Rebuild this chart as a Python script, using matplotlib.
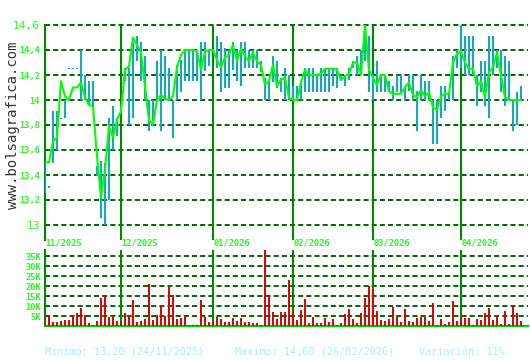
import matplotlib.pyplot as plt
import matplotlib.transforms as mtransforms

# one entry per trading session, 11/2025 .. 04/2026
close = [13.50, 13.50, 13.67, 13.70, 14.15, 14.03, 14.00, 14.10, 14.10, 14.14,
         14.02, 13.96, 13.95, 13.55, 13.22, 13.44, 13.79, 13.70, 13.84, 13.91,
         14.24, 14.27, 14.50, 14.44, 14.38, 14.11, 13.84, 13.80, 14.00, 14.04,
         14.01, 14.00, 14.03, 14.26, 14.36, 14.40, 14.40, 14.40, 14.39, 14.24,
         14.39, 14.40, 14.40, 14.32, 14.26, 14.34, 14.36, 14.44, 14.31, 14.41,
         14.35, 14.31, 14.38, 14.31, 14.28, 14.12, 14.15, 14.28, 14.11, 14.16,
         14.18, 14.02, 14.00, 14.00, 14.14, 14.24, 14.20, 14.20, 14.20, 14.21,
         14.25, 14.25, 14.25, 14.24, 14.16, 14.19, 14.21, 14.30, 14.30, 14.20,
         14.60, 14.24, 14.18, 14.12, 14.20, 14.20, 14.07, 14.05, 14.05, 14.05,
         14.10, 14.14, 14.04, 14.02, 14.08, 14.03, 14.06, 13.94, 13.92, 14.03,
         14.05, 14.05, 14.30, 14.37, 14.39, 14.30, 14.25, 14.25, 14.11, 14.15,
         14.02, 14.22, 14.26, 14.38, 14.20, 14.02, 14.00, 14.00, 14.00, 14.00]

low = [13.26, 13.30, 13.50, 13.60, 13.85, 13.86, 14.25, 14.25, 14.25, 14.00,
       14.00, 13.96, 13.95, 13.39, 13.06, 13.00, 13.20, 13.60, 13.71, 13.90,
       14.15, 13.80, 13.86, 14.31, 14.15, 14.00, 13.75, 13.83, 14.00, 13.75,
       14.00, 14.00, 13.70, 14.00, 14.06, 14.15, 14.15, 14.15, 14.15, 14.00,
       14.23, 14.27, 14.40, 14.26, 14.06, 14.10, 14.10, 14.24, 14.15, 14.11,
       14.26, 14.26, 14.26, 14.26, 14.22, 14.00, 14.00, 14.14, 14.10, 14.06,
       14.00, 14.00, 14.00, 14.00, 14.00, 14.06, 14.06, 14.06, 14.06, 14.06,
       14.06, 14.06, 14.11, 14.10, 14.15, 14.11, 14.16, 14.26, 14.20, 14.20,
       14.31, 14.06, 14.00, 14.06, 14.06, 14.06, 14.06, 14.00, 14.06, 14.06,
       14.00, 14.07, 14.00, 13.75, 14.00, 14.00, 14.00, 13.65, 13.65, 13.86,
       13.91, 14.00, 14.00, 14.26, 14.26, 14.20, 14.20, 14.20, 13.95, 14.06,
       13.95, 13.86, 14.20, 14.26, 14.06, 13.95, 14.00, 13.75, 13.80, 14.00]

high = [13.50, 13.31, 13.91, 13.91, 13.86, 14.00, 14.26, 14.26, 14.26, 14.40,
        14.20, 14.15, 14.15, 13.47, 13.51, 13.50, 13.86, 13.95, 13.86, 13.96,
        14.26, 14.26, 14.46, 14.51, 14.46, 14.35, 14.00, 14.00, 14.31, 14.40,
        14.35, 14.26, 14.00, 14.28, 14.32, 14.40, 14.40, 14.40, 14.40, 14.46,
        14.46, 14.40, 14.40, 14.51, 14.46, 14.42, 14.40, 14.46, 14.40, 14.46,
        14.46, 14.40, 14.40, 14.40, 14.31, 14.18, 14.16, 14.35, 14.31, 14.18,
        14.26, 14.20, 14.11, 14.11, 14.15, 14.26, 14.26, 14.26, 14.20, 14.26,
        14.26, 14.26, 14.26, 14.26, 14.20, 14.20, 14.26, 14.31, 14.35, 14.40,
        14.60, 14.51, 14.20, 14.31, 14.20, 14.20, 14.15, 14.11, 14.20, 14.20,
        14.11, 14.20, 14.20, 14.07, 14.20, 14.15, 14.15, 14.00, 14.00, 14.11,
        14.11, 14.05, 14.35, 14.40, 14.60, 14.51, 14.51, 14.51, 14.20, 14.31,
        14.31, 14.51, 14.51, 14.40, 14.40, 14.35, 14.31, 14.00, 14.06, 14.11]

volume_k = [5.3, 5.3, 2.0, 2.0, 2.7, 3.0, 3.0, 5.3, 6.3, 9.0,
            5.3, 1.3, 0.5, 2.7, 14.0, 15.0, 4.5, 4.5, 2.7, 2.0,
            6.5, 5.0, 13.0, 2.0, 2.7, 3.5, 21.0, 3.0, 5.3, 10.0,
            5.0, 19.5, 15.3, 3.5, 4.0, 5.3, 0.5, 0.5, 0.5, 13.0,
            4.5, 2.0, 2.0, 4.5, 3.5, 2.0, 2.0, 4.0, 2.7, 4.0,
            2.0, 2.0, 1.5, 1.5, 0.5, 38.0, 15.3, 7.0, 3.5, 7.0,
            7.0, 23.0, 7.0, 3.0, 8.0, 13.5, 1.3, 4.5, 1.3, 1.3,
            4.0, 2.0, 3.5, 0.5, 1.3, 6.0, 8.5, 3.5, 1.3, 6.5,
            14.0, 20.0, 18.3, 7.5, 3.0, 2.7, 3.5, 9.5, 4.5, 2.0,
            8.5, 2.7, 2.0, 4.0, 4.5, 4.5, 2.7, 11.5, 0.5, 3.5,
            1.0, 2.0, 12.5, 2.7, 4.5, 4.0, 4.0, 0.5, 3.5, 3.0,
            6.5, 9.0, 3.0, 5.5, 1.0, 7.5, 1.0, 10.0, 6.5, 2.7]

month_start = [0, 19, 42, 62, 82, 104]
month_labels = ["11/2025", "12/2025", "01/2026", "02/2026", "03/2026", "04/2026"]

price_ticks = [13.0, 13.2, 13.4, 13.6, 13.8, 14.0, 14.2, 14.4, 14.6]
price_tick_labels = ["13", "13,2", "13,4", "13,6", "13,8", "14", "14,2", "14,4", "14,6"]
vol_ticks = [5, 10, 15, 20, 25, 30, 35]
vol_tick_labels = ["5K", "10K", "15K", "20K", "25K", "30K", "35K"]

footer_min = "Minimo: 13,20 (24/11/2025)"
footer_max = "Maximo: 14,60 (26/02/2026)"
footer_var = "Variación: 11%"

grid_color = "#006600"
axis_color = "#008800"
label_green = "#22ff22"
price_color = "#00ff00"
range_color = "#17a9b9"
vol_color = "#dd0000"
mono = "DejaVu Sans Mono"

W, H = 530, 360
fig = plt.figure(figsize=(W / 100, H / 100), dpi=100)
fig.patch.set_facecolor("white")

def px_box(left, top, right, bottom):
    return [left / W, 1 - bottom / H, (right - left) / W, (bottom - top) / H]

days = list(range(len(close)))
xlim = (0, 120.75)

################# PRICE #################
ax = fig.add_axes(px_box(45, 25, 528, 240))
ax.set_xlim(*xlim)
ax.set_ylim(12.88, 14.6)
for v in price_ticks:
    ax.axhline(v, color=grid_color, lw=1.4, dashes=(2.6, 1.6), zorder=1, clip_on=False)
for m in month_start[1:]:
    ax.axvline(m, color=axis_color, lw=1.5, zorder=2)
ax.vlines(days, low, high, color=range_color, lw=1.5, zorder=3)
ax.plot(days, close, color=price_color, lw=1.5, zorder=4)

for s in ["top", "right", "bottom"]:
    ax.spines[s].set_visible(False)
ax.spines["left"].set_color(axis_color)
ax.spines["left"].set_linewidth(1.5)
ax.set_xticks([])
ax.set_yticks(price_ticks)
ax.set_yticklabels(price_tick_labels)
ax.tick_params(axis="y", length=0, pad=3.5, colors=label_green)
for i, lab in enumerate(ax.get_yticklabels()):
    lab.set_family(mono)
    if i in (0, len(price_ticks) - 1):
        lab.set_fontsize(8)
    else:
        lab.set_fontsize(6.2)
        lab.set_fontweight("bold")

################# VOLUME #################
ax2 = fig.add_axes(px_box(45, 250, 528, 326))
ax2.set_xlim(*xlim)
ax2.set_ylim(0, 38)
for v in vol_ticks:
    ax2.axhline(v, color=grid_color, lw=1.4, dashes=(2.6, 1.6), zorder=1)
for m in month_start[1:]:
    ax2.axvline(m, color=axis_color, lw=1.5, zorder=2)
ax2.vlines(days, 0, volume_k, color=vol_color, lw=1.4, zorder=3)

for s in ["top", "right"]:
    ax2.spines[s].set_visible(False)
ax2.spines["left"].set_color(axis_color)
ax2.spines["left"].set_linewidth(1.5)
ax2.spines["bottom"].set_color("#00cc00")
ax2.spines["bottom"].set_linewidth(1.6)
ax2.set_xticks([])
ax2.set_yticks(vol_ticks)
ax2.set_yticklabels(vol_tick_labels)
ax2.tick_params(axis="y", length=0, pad=3, colors=label_green, labelsize=6.2)
for lab in ax2.get_yticklabels():
    lab.set_family(mono)
    lab.set_fontweight("bold")

trans = mtransforms.blended_transform_factory(ax2.transData, ax2.transAxes)
for m, lab in zip(month_start, month_labels):
    ax2.text(m + 0.1, 1.09, lab, transform=trans, ha="left", va="center",
             fontsize=6.2, fontweight="bold", family=mono, color=label_green)

################# TEXTS #################
fig.text(13 / W, 1 - 125 / H, "www.bolsagrafica.com", rotation=90, ha="center",
         va="center", fontsize=10, family=mono, color="#333333")
foot_y = 1 - 352 / H
fig.text(45 / W, foot_y, footer_min, ha="left", va="center", fontsize=7.3, family=mono, color="#a8f0ff")
fig.text(235 / W, foot_y, footer_max, ha="left", va="center", fontsize=7.3, family=mono, color="#a8f0ff")
fig.text(419 / W, foot_y, footer_var, ha="left", va="center", fontsize=7.3, family=mono, color="#a8f0ff")

plt.savefig("out.png", dpi=100)
